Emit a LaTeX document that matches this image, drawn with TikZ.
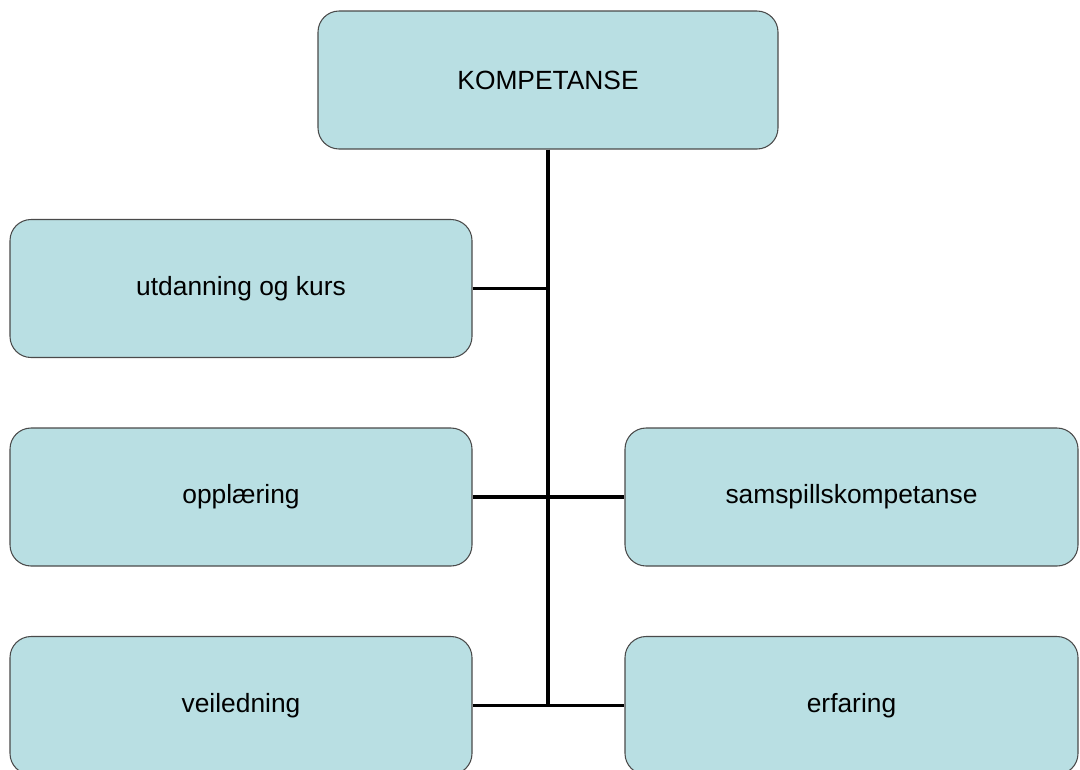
\documentclass[tikz,border=0pt]{standalone}
\usepackage{fontspec}
\setmainfont{Liberation Sans}
\usetikzlibrary{calc}
\definecolor{boxbg}{HTML}{B9DFE3}
\definecolor{boxline}{HTML}{4A4A4A}

\begin{document}
\begin{tikzpicture}[
    every node/.style={font=\fontsize{15pt}{18pt}\selectfont},
    kbox/.style={draw=boxline, line width=0.6pt, fill=boxbg, rounded corners=12pt, minimum height=2.76cm},
    link/.style={line width=2.2pt, black}
]
\useasboundingbox (0,0) rectangle (21.6,-15.38);
% Top
\node[kbox, minimum width=9.2cm] (komp) at (10.96,-1.6) {KOMPETANSE};
% Left column
\node[kbox, minimum width=9.24cm] (utd) at (4.82,-5.77) {utdanning og kurs};
\node[kbox, minimum width=9.24cm] (opp) at (4.82,-9.94) {oppl\ae ring};
\node[kbox, minimum width=9.24cm] (vei) at (4.82,-14.11) {veiledning};
% Right column
\node[kbox, minimum width=9.06cm] (sam) at (17.03,-9.94) {samspillskompetanse};
\node[kbox, minimum width=9.06cm] (erf) at (17.03,-14.11) {erfaring};
% Connectors
\coordinate (bot) at (komp.south |- vei.east);
\draw[link] (komp.south) -- (bot);
\draw[link] (utd.east) -- (komp.south |- utd.east);
\draw[link] (opp.east) -- (sam.west);
\draw[link] (vei.east) -- (erf.west);
\end{tikzpicture}
\end{document}
